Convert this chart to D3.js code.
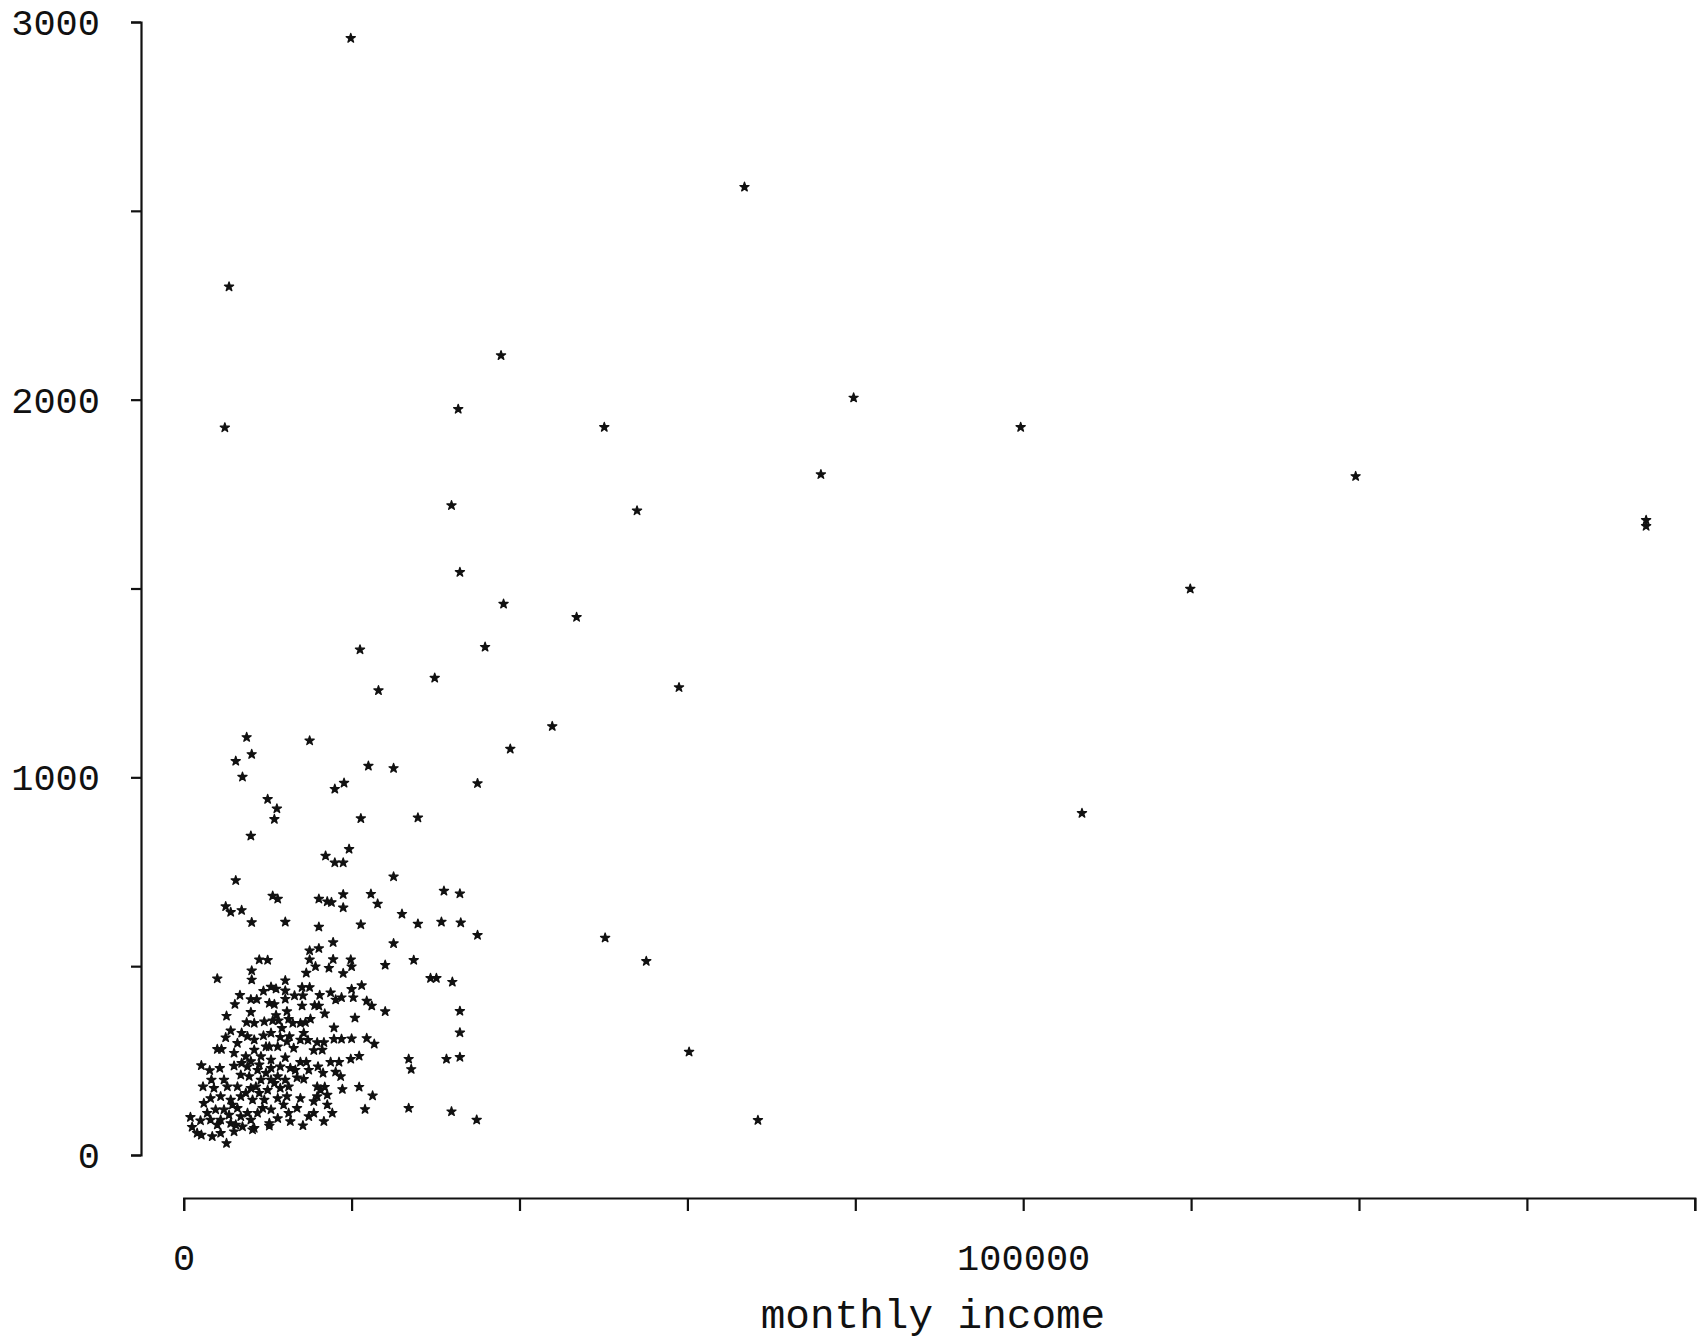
<!DOCTYPE html>
<html>
<head>
<meta charset="utf-8">
<script src="https://cdn.jsdelivr.net/npm/d3@7"></script>
<style>
  body { margin: 0; background: #fff; }
  svg text { font-family: "Liberation Mono", "DejaVu Sans Mono", monospace; fill: #111; }
</style>
</head>
<body>
<div id="chart"></div>
<script>
// [monthly income, value] pairs
const outliers = [
  [19900, 2957], [66800, 2563], [5400, 2299], [37800, 2117], [32700, 1975],
  [4900, 1926], [50100, 1927], [79800, 2005], [99700, 1927], [75900, 1802],
  [139600, 1797], [31900, 1720], [54000, 1706], [174200, 1681], [174200, 1665],
  [32900, 1543], [119900, 1499], [38100, 1459], [46800, 1424], [21000, 1338],
  [35900, 1345], [29900, 1263], [23200, 1230], [59000, 1238], [43900, 1135],
  [38900, 1075], [107000, 905], [50200, 575], [55100, 513], [60200, 273], [68400, 92]
];

const upperCluster = [
  [7500,1106],[15000,1097],[8100,1061],[6200,1043],[7000,1001],[22000,1030],[25000,1024],
  [35000,984],[18000,969],[19100,985],[10000,942],[11100,917],[10800,889],[21100,891],
  [27900,893],[8000,845],[19700,810],[16900,792],[18000,774],[19000,774],[25000,737],
  [6200,727],[10600,686],[11200,678],[16100,678],[17100,671],[17600,669],[19000,690],
  [19000,655],[22300,691],[23100,665],[31000,699],[32900,692],[5000,658],[5600,643],
  [6900,648],[8100,616],[12100,617],[16100,604],[21100,610],[26000,638],[27900,612],
  [30700,617],[33000,615],[35000,582],[17800,563],[25000,560],[15000,541],[16100,547],
  [9000,517],[10000,516],[15000,517],[15700,499],[17800,518],[17300,495],[19900,517],
  [20000,499],[24000,503],[27400,516],[14600,482],[19000,481],[8100,488],[8100,464],
  [4000,467],[12100,462],[29400,468],[30100,468],[32000,458],[32900,381],[32900,324],
  [32900,259],[31300,254],[26800,254],[27100,227],[26800,124],[31900,115],[34900,93],
  [21600,121],[22500,157],[20900,180],[18900,174],[24000,380],[20400,363],[20000,439],
  [21200,449],[20200,417],[21800,408],[22400,395],[20000,308],[21800,309],[22700,294],
  [19900,254],[20900,262],[18800,307]
];

const denseCluster = [
  [9500,434],[10400,445],[11000,440],[12100,435],[14100,444],[15000,444],[13200,422],
  [14200,422],[12100,413],[17500,430],[18100,411],[18800,417],[16200,423],[6700,423],
  [6100,399],[8000,412],[8700,412],[10200,402],[10800,399],[12300,380],[14100,395],
  [15600,396],[16100,395],[8000,378],[11000,370],[12500,360],[16800,374],[5100,368],
  [7500,351],[8400,349],[9600,353],[10600,356],[11300,356],[13000,349],[13900,349],
  [14500,351],[15100,360],[17900,337],[5600,329],[6900,323],[7600,314],[8400,305],
  [9500,316],[10400,323],[11500,312],[12600,314],[14300,323],[14800,304],[15900,298],
  [16700,298],[17900,307],[5000,311],[6400,296],[8400,278],[10200,287],[11200,287],
  [12300,300],[15500,277],[16500,278],[4000,280],[4500,280],[6000,270],[7400,261],
  [9200,261],[10400,252],[12100,258],[13900,246],[14600,246],[16000,234],[17500,246],
  [18500,246],[2100,237],[3100,224],[4300,230],[6000,236],[6900,243],[8000,248],
  [8800,225],[10400,230],[11500,234],[12700,230],[16600,217],[18100,220],[3300,199],
  [4800,199],[6800,212],[7800,208],[9200,199],[10400,199],[11200,208],[13500,205],
  [14300,201],[15900,181],[16800,180],[17100,159],[18700,208],[2300,181],[3600,177],
  [5200,181],[6400,181],[8000,177],[9000,164],[10000,172],[11500,177],[12500,181],
  [2400,137],[3200,150],[4400,155],[5600,146],[6800,155],[8200,146],[9600,146],
  [11200,150],[12300,155],[13900,150],[17100,133],[3800,120],[4800,120],[6400,124],
  [7600,111],[8800,111],[10400,120],[11900,133],[13500,124],[14900,102],[17700,111],
  [800,100],[2000,91],[3200,93],[4400,93],[5600,84],[7000,75],[8400,71],[10200,84],
  [12700,89],[14200,78],[16700,89],[1000,74],[1600,58],[3400,49],[4400,58],[6000,62],
  [8200,67],[10200,77],[5100,31],[2100,53],[8000,93],[6800,102],[5400,106],[4000,80],
  [15900,155],[16300,172],[15500,142],
  // overlapping stars in the darkest part of the clump
  [9000,239],[9800,217],[10800,190],[12100,199],[13300,225],[14900,225],[8600,181],
  [7400,164],[5800,133],[9400,124],[11200,97],[6200,80],[2800,111],[12500,111],
  [15500,111],[7600,234],[9800,287],[13100,283],[13900,305],[11700,336]
];

const xTicks = [0, 20000, 40000, 60000, 80000, 100000, 120000, 140000, 160000, 180000];
const xLabels = [0, 100000];
const yTicks = [0, 500, 1000, 1500, 2000, 2500, 3000];
const yLabels = [0, 1000, 2000, 3000];
const xTitle = "monthly income";

const W = 1699, H = 1342;

const svg = d3.select("#chart")
    .append("svg")
    .attr("width", W)
    .attr("height", H);

const x = d3.scaleLinear()
    .domain([0, 180000])
    .range([183.7, 1694.8]);

const y = d3.scaleLinear()
    .domain([0, 3000])
    .range([1155, 22]);

// x axis sits a bit below the y=0 line, like the original plot
const xAxis = svg.append("g")
    .attr("transform", "translate(0,1198)")
    .call(d3.axisBottom(x)
        .tickValues(xTicks)
        .tickSize(13)
        .tickFormat(d => xLabels.includes(d) ? d : ""));

xAxis.selectAll("text")
    .attr("y", 72)
    .attr("dy", null)
    .style("font-size", "37px");

const yAxis = svg.append("g")
    .attr("transform", "translate(141,0)")
    .call(d3.axisLeft(y)
        .tickValues(yTicks)
        .tickSize(10)
        .tickPadding(31)
        .tickFormat(d => yLabels.includes(d) ? d : ""));

yAxis.selectAll("text")
    .attr("dy", "0.34em")
    .style("font-size", "37px");

svg.selectAll(".domain, .tick line")
    .attr("stroke", "#111")
    .attr("stroke-width", 2.2);

svg.append("text")
    .attr("x", 933)
    .attr("y", 1328)
    .attr("text-anchor", "middle")
    .style("font-size", "41px")
    .text(xTitle);

const allPoints = outliers.concat(upperCluster, denseCluster);

const star = d3.symbol().type(d3.symbolStar).size(26);

svg.append("g")
    .selectAll("path")
    .data(allPoints)
    .join("path")
    .attr("d", star)
    .attr("transform", d => `translate(${x(d[0])},${y(d[1])})`)
    .attr("fill", "#111")
    .attr("stroke", "#111")
    .attr("stroke-width", 1.3)
    .attr("stroke-linejoin", "round");
</script>
</body>
</html>
